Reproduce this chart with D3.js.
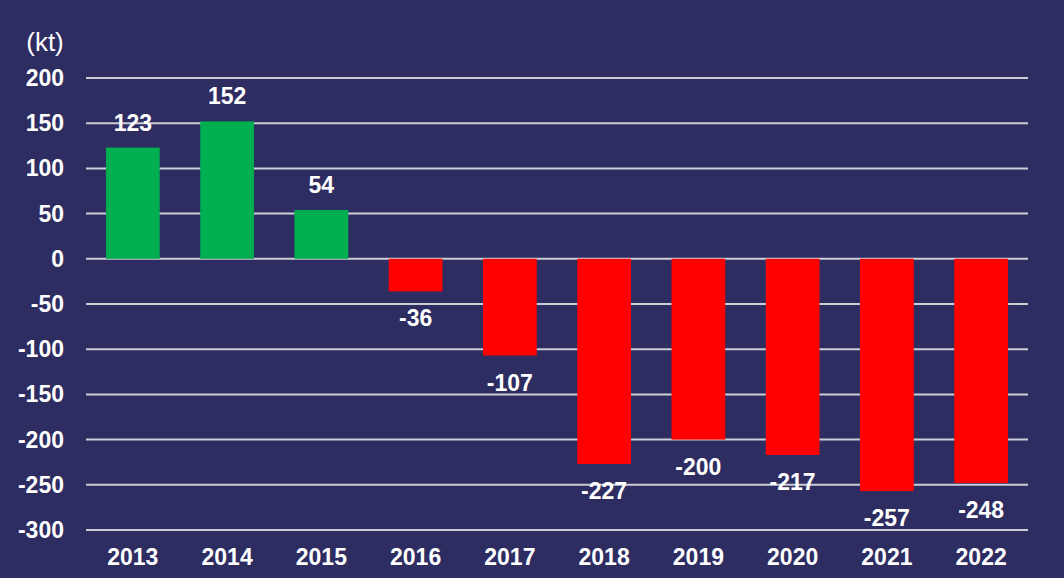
<!DOCTYPE html>
<html>
<head>
<meta charset="utf-8">
<script src="https://cdn.jsdelivr.net/npm/d3@7"></script>
<style>
  html, body { margin: 0; padding: 0; background: #2E2D62; }
  svg { display: block; }
  text { font-family: "Liberation Sans", Arial, sans-serif; fill: #ffffff; }
</style>
</head>
<body>
<svg id="chart" width="1064" height="578"></svg>
<script>
const years = ["2013","2014","2015","2016","2017","2018","2019","2020","2021","2022"];
const values = [123, 152, 54, -36, -107, -227, -200, -217, -257, -248];
const yTicks = [200, 150, 100, 50, 0, -50, -100, -150, -200, -250, -300];
const unitLabel = "(kt)";

(function () {
const W = 1064, H = 578;
const svg = d3.select("#chart");
svg.append("rect").attr("width", W).attr("height", H).attr("fill", "#2E2D62");

const plotLeft = 86, plotRight = 1028, plotTop = 78, plotBottom = 530;
const x = d3.scaleBand().domain(years).range([plotLeft, plotRight]).paddingInner(0.43).paddingOuter(0.212);
const y = d3.scaleLinear().domain([-300, 200]).range([plotBottom, plotTop]);

// gridlines
svg.append("g").selectAll("line").data(yTicks).join("line")
  .attr("x1", plotLeft).attr("x2", plotRight)
  .attr("y1", d => y(d)).attr("y2", d => y(d))
  .attr("stroke", "#CDCDD6").attr("stroke-width", 2);

// y tick labels
svg.append("g").selectAll("text").data(yTicks).join("text")
  .attr("x", 64).attr("y", d => y(d))
  .attr("text-anchor", "end").attr("dominant-baseline", "central")
  .attr("font-size", 23).attr("font-weight", "bold")
  .text(d => d);

// unit
svg.append("text").attr("x", 45).attr("y", 42)
  .attr("text-anchor", "middle").attr("dominant-baseline", "central")
  .attr("font-size", 26).text(unitLabel);

// bars
const data = years.map((yr, i) => ({ yr, v: values[i] }));
svg.append("g").selectAll("rect").data(data).join("rect")
  .attr("x", d => x(d.yr)).attr("width", x.bandwidth())
  .attr("y", d => y(Math.max(0, d.v)))
  .attr("height", d => Math.abs(y(d.v) - y(0)))
  .attr("fill", d => d.v >= 0 ? "#00B050" : "#FF0000");

// value labels
svg.append("g").selectAll("text").data(data).join("text")
  .attr("x", d => x(d.yr) + x.bandwidth() / 2)
  .attr("y", d => d.v >= 0 ? y(d.v) - 25 : y(d.v) + 27)
  .attr("text-anchor", "middle").attr("dominant-baseline", "central")
  .attr("font-size", 23).attr("font-weight", "bold")
  .text(d => d.v);

// x labels
svg.append("g").selectAll("text").data(years).join("text")
  .attr("x", d => x(d) + x.bandwidth() / 2).attr("y", 557)
  .attr("text-anchor", "middle").attr("dominant-baseline", "central")
  .attr("font-size", 23).attr("font-weight", "bold")
  .text(d => d);
})();
</script>
</body>
</html>
